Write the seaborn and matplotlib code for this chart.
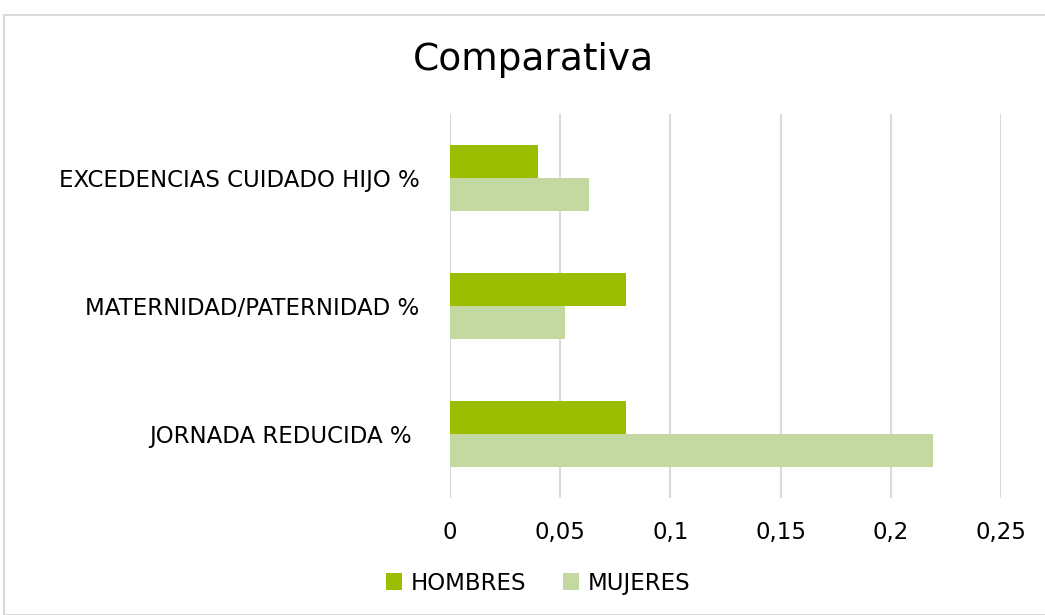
import matplotlib
matplotlib.use("Agg")
import matplotlib.pyplot as plt
import seaborn as sns
import pandas as pd
from matplotlib.patches import Rectangle

categorias = ["EXCEDENCIAS CUIDADO HIJO %", "MATERNIDAD/PATERNIDAD %", "JORNADA REDUCIDA % "]
hombres = [0.04, 0.08, 0.08]
mujeres = [0.063, 0.052, 0.219]
series = ["HOMBRES", "MUJERES"]
xticks = [0, 0.05, 0.1, 0.15, 0.2, 0.25]
xtick_labels = ["0", "0,05", "0,1", "0,15", "0,2", "0,25"]

df = pd.DataFrame({
    "categoria": categorias * 2,
    "serie": [series[0]] * 3 + [series[1]] * 3,
    "valor": hombres + mujeres,
})

sns.set_theme(style="white")
plt.rcParams['font.family'] = ['DejaVu Sans']
plt.rcParams['text.color'] = '#000000'

fig = plt.figure(figsize=(10.45, 6.15), dpi=100)
ax = fig.add_axes([0.4306, 0.1902, 0.5275, 0.6244])

sns.barplot(data=df, y="categoria", x="valor", hue="serie", order=categorias,
            hue_order=series, palette=["#9bbf00", "#c4d9a2"], orient="h",
            width=0.52, gap=0, saturation=1, ax=ax, legend=True, linewidth=0)

ax.set_xlim(0, 0.25)
ax.set_ylim(2.5, -0.5)
ax.set_xticks(xticks)
ax.set_xticklabels(xtick_labels, fontsize=16.5, color="#000000")
ax.tick_params(axis="y", labelsize=16.5, pad=22, length=0, colors="#000000")
ax.tick_params(axis="x", pad=16.5, length=0)
ax.set_xlabel("")
ax.set_ylabel("")
ax.grid(axis="x", color="#d9d9d9", linewidth=1.5)
ax.set_axisbelow(True)
for s in ax.spines.values():
    s.set_visible(False)

leg = ax.legend(loc="center", bbox_to_anchor=(0.515, 0.052), bbox_transform=fig.transFigure,
                ncol=2, frameon=False, fontsize=16.5, handlelength=0.7, handleheight=0.7,
                handletextpad=0.4, columnspacing=1.6)
for t in leg.get_texts():
    t.set_color("#000000")

fig.text(0.5105, 0.902, "Comparativa", ha="center", va="center", fontsize=27, color="#000000")

fig.patches.append(Rectangle((4/1045, 0), 1.1, 1 - 15/615, transform=fig.transFigure,
                             fill=False, edgecolor="#d9d9d9", linewidth=1.5))

fig.savefig("out.png", dpi=100)
